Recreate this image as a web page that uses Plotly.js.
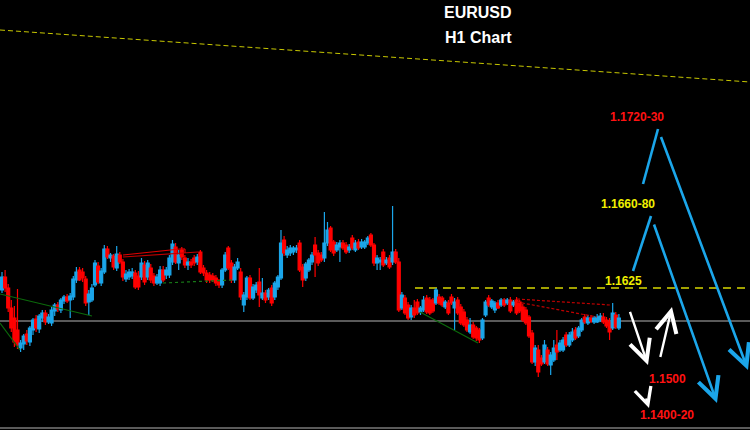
<!DOCTYPE html>
<html>
<head>
<meta charset="utf-8">
<script src="https://cdn.plot.ly/plotly-3.0.1.min.js"></script>
<style>html,body{margin:0;padding:0;background:#000;}#chart{width:750px;height:430px;}</style>
</head>
<body>
<div id="chart"></div>
<script>
// EURUSD H1 candles (prices)
const open = [1.1623,1.1636,1.1625,1.1605,1.1595,1.1583,1.1565,1.1569,1.1579,1.1571,
1.1583,1.1594,1.1584,1.1595,1.1600,1.1591,1.1590,1.1602,1.1608,1.1603,
1.1612,1.1616,1.1613,1.1616,1.1633,1.1643,1.1641,1.1634,1.1611,1.1613,
1.1628,1.1647,1.1630,1.1641,1.1664,1.1655,1.1657,1.1645,1.1658,1.1651,
1.1634,1.1636,1.1637,1.1640,1.1637,1.1636,1.1648,1.1636,1.1645,1.1637,
1.1630,1.1630,1.1643,1.1638,1.1638,1.1651,1.1666,1.1650,1.1663,1.1655,
1.1648,1.1651,1.1655,1.1651,1.1661,1.1645,1.1640,1.1638,1.1637,1.1635,
1.1631,1.1628,1.1643,1.1665,1.1650,1.1633,1.1645,1.1641,1.1608,1.1616,
1.1635,1.1615,1.1623,1.1631,1.1615,1.1620,1.1616,1.1625,1.1616,1.1626,
1.1635,1.1673,1.1658,1.1660,1.1661,1.1663,1.1670,1.1646,1.1635,1.1643,
1.1651,1.1668,1.1660,1.1658,1.1655,1.1670,1.1685,1.1671,1.1663,1.1666,
1.1670,1.1668,1.1663,1.1675,1.1663,1.1671,1.1666,1.1666,1.1670,1.1678,
1.1668,1.1650,1.1651,1.1661,1.1650,1.1655,1.1651,1.1661,1.1651,1.1605,
1.1615,1.1608,1.1596,1.1605,1.1611,1.1601,1.1603,1.1615,1.1613,1.1613,
1.1610,1.1616,1.1615,1.1606,1.1610,1.1616,1.1605,1.1613,1.1606,1.1601,
1.1593,1.1581,1.1588,1.1585,1.1583,1.1575,1.1598,1.1615,1.1606,1.1603,
1.1610,1.1608,1.1613,1.1610,1.1613,1.1608,1.1613,1.1611,1.1606,1.1603,
1.1596,1.1580,1.1551,1.1563,1.1555,1.1551,1.1563,1.1548,1.1553,1.1568,
1.1563,1.1563,1.1578,1.1568,1.1573,1.1583,1.1577,1.1583,1.1596,1.1590,
1.1595,1.1591,1.1591,1.1593,1.1596,1.1593,1.1591,1.1585,1.1598,1.1585];
const high = [1.1641,1.1643,1.1629,1.1613,1.1607,1.1624,1.1573,1.1579,1.1583,1.1587,
1.1595,1.1598,1.1599,1.1603,1.1603,1.1599,1.1606,1.1610,1.1611,1.1615,
1.1618,1.1619,1.1620,1.1637,1.1646,1.1646,1.1645,1.1637,1.1623,1.1629,
1.1653,1.1651,1.1645,1.1668,1.1667,1.1660,1.1659,1.1667,1.1661,1.1654,
1.1643,1.1644,1.1645,1.1643,1.1642,1.1655,1.1652,1.1653,1.1649,1.1640,
1.1639,1.1647,1.1647,1.1646,1.1658,1.1673,1.1670,1.1663,1.1666,1.1658,
1.1655,1.1654,1.1658,1.1659,1.1663,1.1648,1.1643,1.1641,1.1640,1.1638,
1.1634,1.1645,1.1661,1.1667,1.1653,1.1649,1.1655,1.1645,1.1621,1.1637,
1.1638,1.1629,1.1631,1.1645,1.1635,1.1623,1.1625,1.1628,1.1632,1.1638,
1.1683,1.1677,1.1667,1.1668,1.1667,1.1668,1.1673,1.1649,1.1651,1.1655,
1.1661,1.1676,1.1663,1.1661,1.1701,1.1691,1.1687,1.1673,1.1671,1.1673,
1.1673,1.1671,1.1669,1.1678,1.1673,1.1674,1.1674,1.1673,1.1677,1.1680,
1.1670,1.1658,1.1656,1.1664,1.1656,1.1658,1.1707,1.1664,1.1655,1.1621,
1.1618,1.1611,1.1608,1.1613,1.1614,1.1607,1.1617,1.1618,1.1616,1.1615,
1.1625,1.1619,1.1617,1.1613,1.1613,1.1619,1.1615,1.1616,1.1609,1.1604,
1.1596,1.1595,1.1591,1.1587,1.1585,1.1595,1.1613,1.1618,1.1614,1.1612,
1.1613,1.1615,1.1615,1.1615,1.1616,1.1613,1.1616,1.1613,1.1609,1.1606,
1.1598,1.1583,1.1568,1.1568,1.1558,1.1573,1.1566,1.1561,1.1573,1.1583,
1.1573,1.1576,1.1581,1.1581,1.1585,1.1586,1.1587,1.1595,1.1599,1.1598,
1.1598,1.1597,1.1599,1.1600,1.1600,1.1596,1.1595,1.1610,1.1601,1.1599];
const low = [1.1620,1.1621,1.1601,1.1581,1.1566,1.1564,1.1561,1.1563,1.1568,1.1567,
1.1578,1.1581,1.1580,1.1591,1.1588,1.1589,1.1587,1.1597,1.1601,1.1600,
1.1609,1.1610,1.1595,1.1613,1.1630,1.1632,1.1631,1.1607,1.1598,1.1611,
1.1626,1.1629,1.1627,1.1639,1.1654,1.1651,1.1643,1.1642,1.1649,1.1632,
1.1631,1.1633,1.1634,1.1624,1.1623,1.1633,1.1628,1.1633,1.1630,1.1627,
1.1628,1.1627,1.1631,1.1634,1.1635,1.1648,1.1649,1.1643,1.1653,1.1645,
1.1643,1.1645,1.1647,1.1648,1.1639,1.1637,1.1630,1.1630,1.1631,1.1627,
1.1625,1.1625,1.1641,1.1643,1.1630,1.1630,1.1643,1.1613,1.1601,1.1613,
1.1613,1.1613,1.1620,1.1606,1.1613,1.1610,1.1613,1.1607,1.1613,1.1623,
1.1633,1.1657,1.1655,1.1657,1.1658,1.1660,1.1641,1.1626,1.1632,1.1641,
1.1648,1.1636,1.1647,1.1651,1.1651,1.1667,1.1661,1.1657,1.1661,1.1651,
1.1663,1.1659,1.1660,1.1663,1.1661,1.1663,1.1664,1.1664,1.1668,1.1666,
1.1647,1.1643,1.1643,1.1646,1.1648,1.1644,1.1648,1.1649,1.1601,1.1603,
1.1598,1.1593,1.1593,1.1595,1.1598,1.1598,1.1601,1.1599,1.1598,1.1600,
1.1608,1.1608,1.1606,1.1604,1.1598,1.1608,1.1583,1.1598,1.1588,1.1586,
1.1581,1.1579,1.1574,1.1572,1.1570,1.1573,1.1596,1.1606,1.1604,1.1600,
1.1604,1.1606,1.1606,1.1608,1.1600,1.1606,1.1598,1.1600,1.1591,1.1588,
1.1575,1.1549,1.1547,1.1536,1.1547,1.1549,1.1547,1.1538,1.1551,1.1553,
1.1561,1.1561,1.1566,1.1566,1.1571,1.1573,1.1575,1.1581,1.1589,1.1588,
1.1590,1.1589,1.1590,1.1591,1.1589,1.1585,1.1573,1.1583,1.1584,1.1583];
const close = [1.1636,1.1625,1.1605,1.1585,1.1571,1.1568,1.1570,1.1577,1.1572,1.1585,
1.1593,1.1585,1.1597,1.1600,1.1591,1.1596,1.1603,1.1608,1.1604,1.1613,
1.1616,1.1612,1.1617,1.1634,1.1641,1.1633,1.1635,1.1610,1.1619,1.1625,
1.1650,1.1631,1.1642,1.1664,1.1656,1.1658,1.1646,1.1659,1.1651,1.1636,
1.1639,1.1641,1.1641,1.1626,1.1626,1.1650,1.1631,1.1650,1.1633,1.1630,
1.1636,1.1643,1.1633,1.1643,1.1655,1.1669,1.1651,1.1658,1.1656,1.1648,
1.1651,1.1648,1.1650,1.1656,1.1641,1.1640,1.1633,1.1633,1.1633,1.1630,
1.1628,1.1643,1.1658,1.1645,1.1633,1.1646,1.1651,1.1616,1.1618,1.1635,
1.1615,1.1626,1.1628,1.1618,1.1620,1.1613,1.1623,1.1610,1.1630,1.1636,
1.1670,1.1660,1.1663,1.1665,1.1665,1.1665,1.1643,1.1633,1.1649,1.1653,
1.1658,1.1658,1.1650,1.1653,1.1670,1.1683,1.1663,1.1660,1.1668,1.1670,
1.1665,1.1661,1.1666,1.1665,1.1670,1.1665,1.1671,1.1671,1.1675,1.1668,
1.1650,1.1655,1.1653,1.1648,1.1653,1.1646,1.1661,1.1651,1.1603,1.1618,
1.1600,1.1595,1.1605,1.1598,1.1600,1.1605,1.1613,1.1601,1.1600,1.1602,
1.1623,1.1610,1.1608,1.1611,1.1600,1.1610,1.1611,1.1600,1.1590,1.1588,
1.1583,1.1588,1.1576,1.1575,1.1573,1.1593,1.1611,1.1608,1.1612,1.1610,
1.1605,1.1613,1.1608,1.1613,1.1602,1.1611,1.1600,1.1602,1.1593,1.1590,
1.1577,1.1551,1.1565,1.1541,1.1549,1.1568,1.1549,1.1558,1.1565,1.1561,
1.1570,1.1573,1.1568,1.1578,1.1581,1.1575,1.1585,1.1593,1.1591,1.1595,
1.1592,1.1595,1.1596,1.1597,1.1591,1.1587,1.1581,1.1600,1.1586,1.1595];
const bars = open.map((_, i) => i);

// levels / labels
const levelLabels = ['1.1720-30', '1.1660-80', '1.1625', '1.1500', '1.1400-20'];
const resistance = 1.1625;
const pivotLine = 1.1592;

const W = 750, H = 430;
const px = x => x / W;
const py = y => 1 - y / H;

const BLUE = '#1ba6ea', RED = '#ff1212', YEL = '#f0f000';

const trace = {
  type: 'candlestick', x: bars, open: open, high: high, low: low, close: close,
  increasing: {line: {color: BLUE, width: 1.2}, fillcolor: BLUE},
  decreasing: {line: {color: '#ff0000', width: 1.2}, fillcolor: '#ff0000'},
  whiskerwidth: 0, hoverinfo: 'skip', showlegend: false
};

function seg(x0, y0, x1, y1, color, width, dash, layer) {
  return {type: 'line', xref: 'paper', yref: 'paper', x0: px(x0), y0: py(y0), x1: px(x1), y1: py(y1),
    line: {color: color, width: width, dash: dash || 'solid'}, layer: layer || 'above'};
}
function hline(level, x0, x1, color, width, dash, layer) {
  return {type: 'line', xref: 'paper', yref: 'y', x0: px(x0), x1: px(x1), y0: level, y1: level,
    line: {color: color, width: width, dash: dash || 'solid'}, layer: layer || 'below'};
}

const shapes = [
  seg(0, 30, 750, 82, '#c8c800', 1, '5px,3px', 'below'),
  hline(resistance, 415, 750, '#d8d800', 1.5, '8px,6px'),
  hline(pivotLine, 0, 750, '#b4b4b4', 1.2),
  seg(0, 294, 92, 316, '#0b6a0b', 1.2),
  seg(0, 323, 20, 350, '#0b6a0b', 1.2),
  seg(420, 312, 478, 343, '#0b6a0b', 1.2),
  seg(163, 283, 233, 280, '#177a17', 1.2, '3px,3px'),
  seg(123, 255, 180, 249, '#e00000', 1.2),
  seg(123, 257, 198, 252, '#c00000', 1.2),
  seg(180, 249, 185, 249, '#e00000', 1.2),
  seg(185, 249, 185, 253, '#e00000', 1.2),
  seg(517, 299, 610, 305, '#c00000', 1.2, '3px,2px'),
  seg(517, 302, 597, 317, '#c00000', 1.2, '3px,2px'),
  seg(0, 428, 750, 428, '#7a7a7a', 1.5),
  // blue scenario legs (rising part)
  seg(643, 184, 658, 129, BLUE, 2.6),
  seg(633, 271, 651, 216, BLUE, 2.6)
];

function arrow(xt, yt, xh, yh, color, width, size) {
  return {xref: 'paper', yref: 'paper', x: px(xh), y: py(yh), ax: xt - xh, ay: yt - yh,
    axref: 'pixel', ayref: 'pixel', text: ' ', showarrow: true, arrowhead: 5,
    arrowsize: size, arrowwidth: width, arrowcolor: color, standoff: 0, startstandoff: 0};
}
function label(text, x, y, color, size) {
  return {xref: 'paper', yref: 'paper', x: px(x), y: py(y), text: '<b>' + text + '</b>', showarrow: false,
    xanchor: 'center', yanchor: 'middle', font: {family: 'Arial, "Liberation Sans", sans-serif', size: size, color: color}};
}

const annotations = [
  arrow(658, 129, 748, 370, BLUE, 2.6, 1.6),
  arrow(651, 216, 717, 403, BLUE, 2.6, 1.6),
  arrow(627, 303, 648, 365, '#ffffff', 2.4, 1.7),
  arrow(658, 367, 672, 307, '#ffffff', 2.4, 1.7),
  arrow(643, 389, 649, 408, '#ffffff', 2.2, 1.5),
  label(levelLabels[0], 637, 117, RED, 12),
  label(levelLabels[1], 628, 204, YEL, 12),
  label(levelLabels[2], 623, 281, YEL, 12),
  label(levelLabels[3], 667, 379, RED, 12),
  label(levelLabels[4], 667, 415, RED, 12),
  label('EURUSD', 478, 13, '#ffffff', 16),
  label('H1 Chart', 478, 37, '#ffffff', 16)
];

const layout = {
  width: W, height: H, margin: {l: 0, r: 0, t: 0, b: 0, pad: 0},
  paper_bgcolor: '#000', plot_bgcolor: '#000', showlegend: false,
  boxgap: 0.05, boxgroupgap: 0,
  xaxis: {range: [-0.645, 241.3], visible: false, rangeslider: {visible: false}, fixedrange: true},
  yaxis: {range: [1.1483, 1.1913], visible: false, fixedrange: true},
  shapes: shapes, annotations: annotations
};

Plotly.newPlot('chart', [trace], layout, {staticPlot: true, displayModeBar: false});
</script>
</body>
</html>
